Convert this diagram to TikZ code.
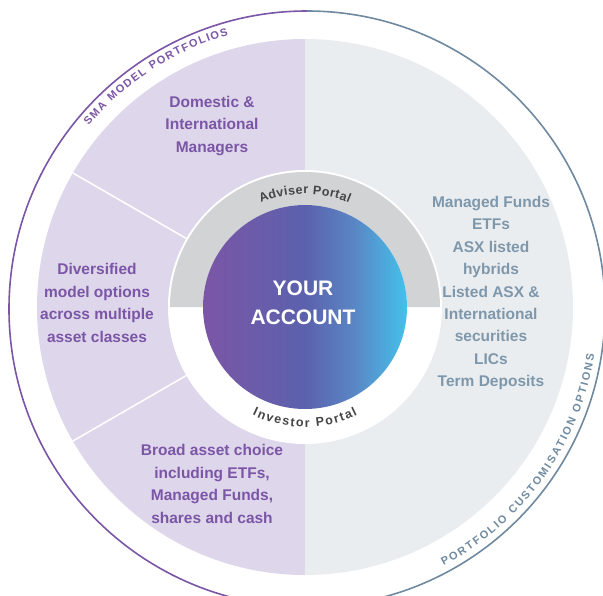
\documentclass[tikz,border=0pt]{standalone}
\usepackage{fontspec}
\setmainfont{Liberation Sans}
\usetikzlibrary{decorations.text}

\definecolor{smalilac}{HTML}{DED6EA}
\definecolor{optgrey}{HTML}{E9EDF0}
\definecolor{portalgrey}{HTML}{D2D3D5}
\definecolor{smapurple}{HTML}{7B56A7}
\definecolor{optblue}{HTML}{7F97AB}
\definecolor{optline}{HTML}{6F8AA0}
\definecolor{portaltext}{HTML}{454545}
\definecolor{gradA}{HTML}{7B56A6}
\definecolor{gradB}{HTML}{5B61AD}
\definecolor{gradC}{HTML}{5A86C4}
\definecolor{gradD}{HTML}{44C1EC}
\pgfdeclarehorizontalshading{accountshade}{100bp}{color(0bp)=(gradA); color(25bp)=(gradA); color(50bp)=(gradB); color(62bp)=(gradC); color(75bp)=(gradD); color(100bp)=(gradD)}

\newcommand\ringfont{\bfseries\fontsize{11}{13}\selectfont}
\newcommand\portalfont{\bfseries\fontsize{12.5}{14}\selectfont}

\tikzset{
  sector text/.style={align=center, font=\bfseries\fontsize{15.5}{22.5}\selectfont, text=smapurple},
  option text/.style={align=center, font=\bfseries\fontsize{15.5}{22.4}\selectfont, text=optblue},
  account text/.style={align=center, font=\bfseries\fontsize{21}{29}\selectfont, text=white},
  divider/.style={white, line width=1.5pt},
  curved/.style 2 args={decorate, decoration={text along path, text={|#1|#2}, text align=fit to path}}
}

\begin{document}
\begin{tikzpicture}[x=1pt,y=1pt]
  \useasboundingbox (-305,-288) rectangle (298,307);
  \fill[smalilac] (0,268) arc[start angle=90,end angle=270,radius=268] -- cycle;
  \fill[optgrey] (0,-268) arc[start angle=-90,end angle=90,radius=268] -- cycle;
  \draw[divider] (150:136) -- (150:268);
  \draw[divider] (210:136) -- (210:268);
  \fill[white] (0,0) circle[radius=137];
  \fill[portalgrey] (135,0) arc[start angle=0,end angle=180,radius=135] -- (-102,0) arc[start angle=180,end angle=0,radius=102] -- cycle;
  \shade[shading=accountshade] (0,0) circle[radius=102];

  \node[account text] (account) at (-2,4) {YOUR\\ACCOUNT};
  \node[sector text] (managers) at (-93,181) {Domestic \&\\International\\Managers};
  \node[sector text] (diversified) at (-208,4) {Diversified\\model options\\across multiple\\asset classes};
  \node[sector text] (assets) at (-93,-177) {Broad asset choice\\including ETFs,\\Managed Funds,\\shares and cash};
  \node[option text] (options) at (186,14) {Managed Funds\\ETFs\\ASX listed\\hybrids\\Listed ASX \&\\International\\securities\\LICs\\Term Deposits};

  \path[curved={\portalfont\color{portaltext}}{Adviser Portal}] (113:113) arc[start angle=113,end angle=67,radius=113];
  \path[curved={\portalfont\color{portaltext}}{Investor Portal}] (-116:120) arc[start angle=-116,end angle=-64,radius=120];

  \draw[smapurple, line width=1.6pt] (2,296) arc[start angle=90,end angle=270,radius=298];
  \draw[optline, line width=1.6pt] (2,296) arc[start angle=90,end angle=-90,radius=298];
  \path[shift={(2,-2)}, curved={\ringfont\color{smapurple}}{SMA MODEL PORTFOLIOS}] (140:285) arc[start angle=140,end angle=106,radius=285];
  \path[shift={(2,-2)}, curved={\ringfont\color{optline}}{PORTFOLIO CUSTOMISATION OPTIONS}] (-62:291) arc[start angle=-62,end angle=-9,radius=291];
\end{tikzpicture}
\end{document}
